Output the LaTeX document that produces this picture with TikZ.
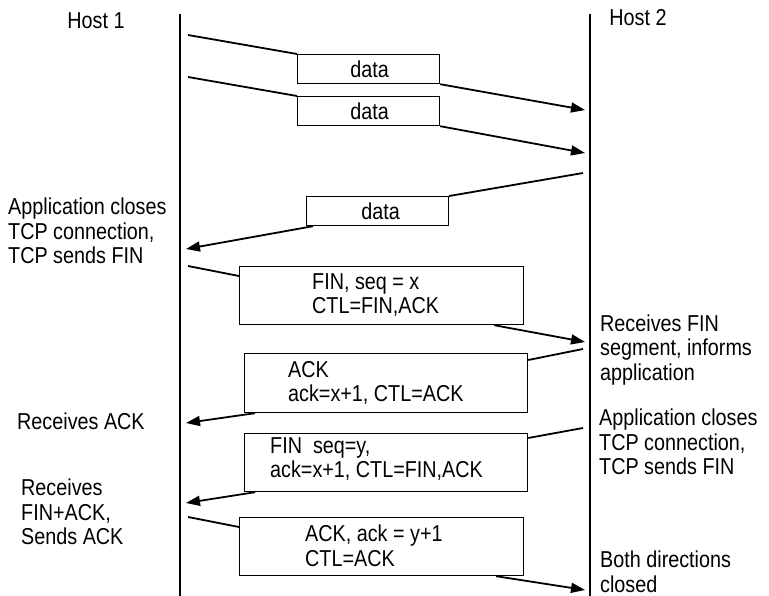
\documentclass[tikz,border=0pt]{standalone}
\usepackage{fontspec}
\setmainfont[FakeStretch=0.86]{Liberation Sans}
\usetikzlibrary{arrows.meta,calc}
\begin{document}
\begin{tikzpicture}[x=1pt,y=-1pt,
  life/.style={line width=2.2pt},
  msg/.style={line width=1.8pt},
  arr/.style={msg,-{Triangle[length=14pt,width=10pt]}},
  pkt/.style={draw,line width=1.2pt,inner sep=0pt,anchor=north west},
  lbl/.style={font=\fontsize{23}{24.5}\selectfont,align=left,inner sep=0pt,anchor=west},
  ctr/.style={font=\fontsize{23}{24.5}\selectfont,inner sep=0pt}]
\useasboundingbox (0,0) rectangle (769,596);
% lifelines
\coordinate (h1top) at (180,14);
\coordinate (h1bot) at (180,596);
\coordinate (h2top) at (590,14);
\coordinate (h2bot) at (590,596);
\draw[life] (h1top) -- (h1bot);
\draw[life] (h2top) -- (h2bot);
\node[ctr] (host1) at (96,21) {Host 1};
\node[ctr] (host2) at (638,18) {Host 2};
% boxes
\node[pkt,minimum width=142pt,minimum height=29pt] (b1) at (297,54) {};
\node[pkt,minimum width=142pt,minimum height=29pt] (b2) at (297,96) {};
\node[pkt,minimum width=142pt,minimum height=29pt] (b3) at (306,196) {};
\node[pkt,minimum width=284pt,minimum height=58pt] (b4) at (239,266) {};
\node[pkt,minimum width=283pt,minimum height=59pt] (b5) at (244,353) {};
\node[pkt,minimum width=283pt,minimum height=58pt] (b6) at (244,433) {};
\node[pkt,minimum width=284pt,minimum height=58pt] (b7) at (239,517) {};
% box texts
\node[ctr] (t1) at ($(b1.center)+(1,0)$) {data};
\node[ctr] (t2) at ($(b2.center)+(1,0)$) {data};
\node[ctr] (t3) at ($(b3.center)+(3,0)$) {data};
\node[lbl] (t4) at (312,295) {FIN, seq = x\\CTL=FIN,ACK};
\node[lbl] (t5) at (288,383) {ACK\\ack=x+1, CTL=ACK};
\node[lbl] (t6) at (270,459) {FIN\ \ seq=y,\\ack=x+1, CTL=FIN,ACK};
\node[lbl] (t7) at (305,546) {ACK, ack = y+1\\CTL=ACK};
% endpoints on lifelines
\coordinate (s1) at (188,35);
\coordinate (r1) at (585,110);
\coordinate (s2) at (188,77);
\coordinate (r2) at (585,153);
\coordinate (s3) at (583,173);
\coordinate (r3) at (186,249);
\coordinate (s4) at (188,266);
\coordinate (r4) at (585,342);
\coordinate (s5) at (583,349);
\coordinate (r5) at (186,423);
\coordinate (s6) at (583,428);
\coordinate (r6) at (186,503);
\coordinate (s7) at (188,517);
\coordinate (r7) at (585,590);
% messages
\draw[msg] (s1) -- (b1.north west);
\draw[arr] (b1.south east) -- (r1);
\draw[msg] (s2) -- (b2.north west);
\draw[arr] (b2.south east) -- (r2);
\draw[msg] (s3) -- (b3.north east);
\draw[arr] ($(b3.south west)+(7,0)$) -- (r3);
\draw[msg] (s4) -- ($(b4.north west)+(0,10)$);
\draw[arr] ($(b4.south east)+(-30,0)$) -- (r4);
\draw[msg] (s5) -- ($(b5.north east)+(0,7)$);
\draw[arr] ($(b5.south west)+(11,0)$) -- (r5);
\draw[msg] (s6) -- ($(b6.north east)+(0,5)$);
\draw[arr] ($(b6.south west)+(11,0)$) -- (r6);
\draw[msg] (s7) -- ($(b7.north west)+(0,10)$);
\draw[arr] ($(b7.south east)+(-28,0)$) -- (r7);
% side labels
\node[lbl] (l1) at (8,231) {Application closes\\TCP connection,\\TCP sends FIN};
\node[lbl] (l2) at (17,421) {Receives ACK};
\node[lbl] (l3) at (21,512) {Receives\\FIN+ACK,\\Sends ACK};
\node[lbl] (r1l) at (600,350) {Receives FIN\\segment, informs\\application};
\node[lbl] (r2l) at (599,442) {Application closes\\TCP connection,\\TCP sends FIN};
\node[lbl] (r3l) at (600,572) {Both directions\\closed};
\end{tikzpicture}
\end{document}
